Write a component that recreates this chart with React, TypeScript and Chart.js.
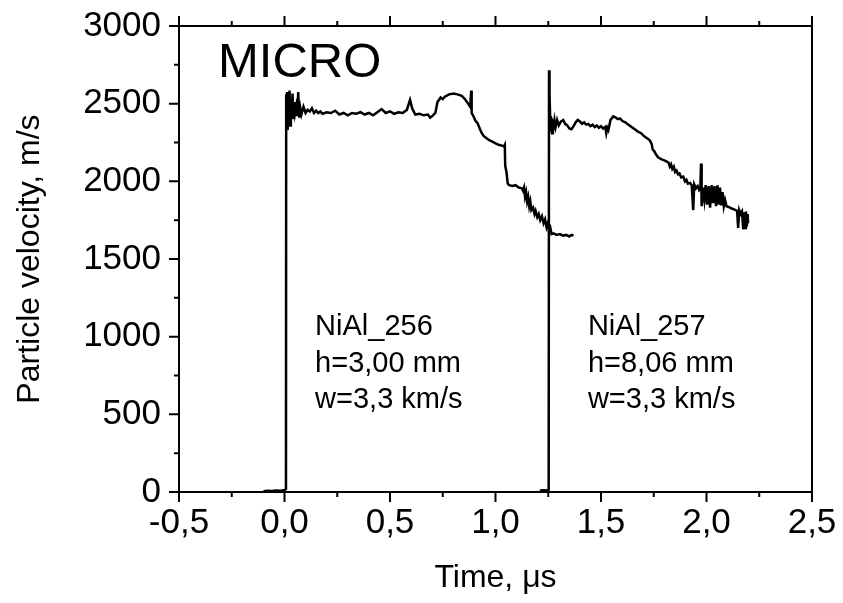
import React, { useEffect, useRef } from "react";
import { Chart, registerables } from "chart.js";

Chart.register(...registerables);

// ---- Data ----
const t256 = [
  -0.1, -0.08, -0.06, -0.04, -0.02, -0.005, 0.0, 0.007, 0.008, 0.01, 0.012, 0.015, 0.018, 0.021, 0.024, 0.027,
  0.03, 0.034, 0.038, 0.042, 0.046, 0.05, 0.055, 0.06, 0.065, 0.07, 0.075, 0.08, 0.09, 0.1, 0.11, 0.12,
  0.13, 0.14, 0.15, 0.16, 0.17, 0.18, 0.2, 0.22, 0.24, 0.26, 0.28, 0.3, 0.32, 0.34, 0.36, 0.38,
  0.4, 0.42, 0.44, 0.46, 0.48, 0.5, 0.52, 0.54, 0.56, 0.58, 0.595, 0.605, 0.62, 0.64, 0.66, 0.68,
  0.69, 0.7, 0.715, 0.725, 0.74, 0.75, 0.76, 0.78, 0.8, 0.82, 0.84, 0.855, 0.87, 0.88, 0.885, 0.887,
  0.895, 0.905, 0.915, 0.925, 0.935, 0.945, 0.955, 0.97, 0.985, 1.0, 1.015, 1.03, 1.04, 1.044, 1.046, 1.052,
  1.058, 1.065, 1.08, 1.095, 1.11, 1.125, 1.13, 1.135, 1.14, 1.145, 1.15, 1.155, 1.16, 1.165, 1.17, 1.178,
  1.185, 1.19, 1.198, 1.205, 1.212, 1.22, 1.228, 1.235, 1.242, 1.248, 1.254, 1.26, 1.266, 1.275, 1.29, 1.305,
  1.32, 1.335, 1.35, 1.36, 1.37,
];
const v256 = [
  5, 8, 6, 10, 8, 12, 12, 20, 2560, 2380, 2575, 2330, 2540, 2420, 2585, 2360,
  2500, 2440, 2565, 2400, 2510, 2440, 2480, 2420, 2575, 2410, 2470, 2430, 2480, 2440, 2460, 2450,
  2470, 2440, 2455, 2440, 2450, 2435, 2445, 2440, 2455, 2430, 2440, 2425, 2440, 2435, 2445, 2430,
  2440, 2425, 2445, 2465, 2440, 2450, 2435, 2445, 2440, 2460, 2525, 2470, 2430, 2435, 2425, 2430,
  2410, 2420, 2440, 2510, 2540, 2530, 2545, 2560, 2565, 2560, 2550, 2530, 2500, 2480, 2585, 2440,
  2420, 2390, 2375, 2340, 2310, 2290, 2280, 2265, 2255, 2245, 2235, 2230, 2225, 2235, 2100, 2060,
  1985, 1975, 1970, 1975, 1960, 1955, 1940, 1960, 1900, 1930, 1870, 1900, 1840, 1870, 1815, 1830,
  1790, 1810, 1770, 1790, 1750, 1775, 1730, 1755, 1705, 1730, 1680, 1700, 1660, 1665, 1655, 1660,
  1650, 1655, 1645, 1655, 1650,
];

const t257 = [
  1.21, 1.23, 1.245, 1.252, 1.2536, 1.256, 1.259, 1.262, 1.265, 1.268, 1.272, 1.276, 1.28, 1.285, 1.292, 1.3,
  1.31, 1.321, 1.33, 1.34, 1.35, 1.36, 1.37, 1.38, 1.39, 1.4, 1.41, 1.42, 1.43, 1.44, 1.45, 1.46,
  1.47, 1.48, 1.49, 1.5, 1.51, 1.52, 1.525, 1.53, 1.535, 1.545, 1.558, 1.57, 1.58, 1.59, 1.6, 1.615,
  1.63, 1.645, 1.66, 1.675, 1.69, 1.705, 1.718, 1.732, 1.74, 1.745, 1.752, 1.76, 1.77, 1.78, 1.79, 1.8,
  1.81, 1.82, 1.826, 1.832, 1.838, 1.845, 1.851, 1.858, 1.865, 1.872, 1.88, 1.89, 1.898, 1.905, 1.912, 1.922,
  1.93, 1.937, 1.942, 1.95, 1.958, 1.965, 1.971, 1.974, 1.977, 1.983, 1.99, 1.996, 2.003, 2.01, 2.017, 2.024,
  2.031, 2.038, 2.045, 2.052, 2.058, 2.064, 2.07, 2.076, 2.082, 2.088, 2.095, 2.105, 2.112, 2.12, 2.13, 2.138,
  2.145, 2.15, 2.155, 2.162, 2.168, 2.174, 2.178, 2.183, 2.187, 2.191, 2.195, 2.197,
];
const v257 = [
  10, 12, 10, 15, 2715, 2560, 2420, 2320, 2410, 2310, 2400, 2330, 2390, 2350, 2395, 2360,
  2385, 2395, 2370, 2360, 2340, 2335, 2355, 2380, 2395, 2385, 2370, 2380, 2365, 2370, 2355, 2365,
  2350, 2360, 2345, 2355, 2340, 2350, 2310, 2345, 2330, 2395, 2418, 2410, 2400, 2405, 2390, 2380,
  2365, 2350, 2335, 2320, 2310, 2290, 2278, 2262, 2240, 2205, 2195, 2175, 2155, 2147, 2140, 2135,
  2128, 2120, 2095, 2110, 2080, 2095, 2060, 2070, 2045, 2050, 2025, 2030, 2000, 2010, 1985, 1990,
  1975, 1815, 1980, 1955, 1970, 1945, 1960, 2115, 1840, 1960, 1880, 1975, 1850, 1970, 1830, 1975,
  1860, 1970, 1840, 1975, 1850, 1960, 1845, 1930, 1840, 1880, 1840, 1835, 1830, 1825, 1820, 1815,
  1810, 1700, 1815, 1790, 1805, 1690, 1800, 1700, 1805, 1710, 1790, 1730,
];

const xMajorTicks = [-0.5, 0, 0.5, 1, 1.5, 2, 2.5];
const xMinorTicks = [-0.25, 0.25, 0.75, 1.25, 1.75, 2.25];
const yMajorTicks = [0, 500, 1000, 1500, 2000, 2500, 3000];
const yMinorTicks = [250, 750, 1250, 1750, 2250, 2750];

const xTitle = "Time, \u03bcs";
const yTitle = "Particle velocity, m/s";
const panelLabel = "MICRO";
const note256 = ["NiAl_256", "h=3,00 mm", "w=3,3 km/s"];
const note257 = ["NiAl_257", "h=8,06 mm", "w=3,3 km/s"];

// anchors of the text blocks, in data coordinates (time, velocity)
const note256Anchor = [0.145, 1011];
const note257Anchor = [1.438, 1011];
const panelAnchor = [-0.315, 2672];

const FONT = "'Liberation Sans', Arial, Helvetica, sans-serif";

const framePlugin = {
  id: "frameAndTicks",
  afterDraw(chart: any) {
    const { ctx, chartArea } = chart;
    const xs = chart.scales.x;
    const ys = chart.scales.y;
    const { left, right, top, bottom } = chartArea;
    ctx.save();
    ctx.strokeStyle = "#000";
    ctx.lineWidth = 2;
    ctx.lineCap = "butt";
    ctx.beginPath();
    ctx.moveTo(left, top);
    ctx.lineTo(right, top);
    ctx.moveTo(left, bottom);
    ctx.lineTo(right, bottom);
    ctx.moveTo(left, top - 1);
    ctx.lineTo(left, bottom + 1);
    ctx.moveTo(right, top - 1);
    ctx.lineTo(right, bottom + 1);
    const drawX = (vals: number[], len: number) => {
      vals.forEach((v) => {
        const px = xs.getPixelForValue(v);
        ctx.moveTo(px, bottom);
        ctx.lineTo(px, bottom + len);
        ctx.moveTo(px, top);
        ctx.lineTo(px, top - len);
      });
    };
    drawX(xMajorTicks, 10);
    drawX(xMinorTicks, 5);
    const drawY = (vals: number[], len: number) => {
      vals.forEach((v) => {
        const py = ys.getPixelForValue(v);
        ctx.moveTo(left, py);
        ctx.lineTo(left - len, py);
      });
    };
    drawY(yMajorTicks, 10);
    drawY(yMinorTicks, 5);
    ctx.stroke();

    ctx.fillStyle = "#000";
    ctx.textAlign = "left";
    ctx.textBaseline = "alphabetic";
    ctx.font = `49px ${FONT}`;
    ctx.fillText(panelLabel, xs.getPixelForValue(panelAnchor[0]), ys.getPixelForValue(panelAnchor[1]));
    ctx.font = `29px ${FONT}`;
    const block = (lines: string[], anchor: number[]) => {
      const x0 = xs.getPixelForValue(anchor[0]);
      const y0 = ys.getPixelForValue(anchor[1]);
      lines.forEach((s, i) => ctx.fillText(s, x0, y0 + i * 36.7));
    };
    block(note256, note256Anchor);
    block(note257, note257Anchor);
    ctx.restore();
  },
};

export default function App() {
  const canvasRef = useRef<HTMLCanvasElement | null>(null);

  useEffect(() => {
    if (!canvasRef.current) return;
    const mk = (ts: number[], vs: number[]) => ts.map((t, i) => ({ x: t, y: vs[i] }));
    const chart = new Chart(canvasRef.current, {
      type: "line",
      data: {
        datasets: [
          {
            label: "NiAl_256",
            data: mk(t256, v256),
            borderColor: "#000",
            borderWidth: 2.5,
            pointRadius: 0,
            tension: 0,
            fill: false,
          },
          {
            label: "NiAl_257",
            data: mk(t257, v257),
            borderColor: "#000",
            borderWidth: 2.5,
            pointRadius: 0,
            tension: 0,
            fill: false,
          },
        ],
      },
      options: {
        animation: false,
        responsive: false,
        maintainAspectRatio: false,
        layout: { padding: { top: 26, right: 31, left: 0, bottom: 0 } },
        plugins: {
          legend: { display: false },
          tooltip: { enabled: false },
          title: { display: false },
        },
        scales: {
          x: {
            type: "linear",
            position: "bottom",
            min: -0.5,
            max: 2.5,
            grid: { display: false, drawTicks: false },
            border: { display: false },
            ticks: {
              stepSize: 0.5,
              autoSkip: false,
              maxRotation: 0,
              padding: 10,
              color: "#000",
              font: { size: 35, family: FONT },
              callback: (v: any) => Number(v).toFixed(1).replace(".", ","),
            },
            title: {
              display: true,
              text: xTitle,
              color: "#000",
              font: { size: 32, family: FONT },
              padding: { top: 0, bottom: 6 },
            },
            afterFit: (s: any) => {
              s.height = 111;
              s.paddingLeft = 0;
              s.paddingRight = 0;
            },
          },
          y: {
            type: "linear",
            position: "left",
            min: 0,
            max: 3000,
            grid: { display: false, drawTicks: false },
            border: { display: false },
            ticks: {
              stepSize: 500,
              autoSkip: false,
              padding: 18,
              color: "#000",
              font: { size: 35, family: FONT },
              callback: (v: any) => String(v),
            },
            title: {
              display: true,
              text: yTitle,
              color: "#000",
              font: { size: 32, family: FONT },
              padding: { top: 11, bottom: 0 },
            },
            afterFit: (s: any) => {
              s.width = 179;
              s.paddingTop = 0;
              s.paddingBottom = 0;
            },
          },
        },
      },
      plugins: [framePlugin],
    });
    return () => chart.destroy();
  }, []);

  return (
    <div style={{ position: "absolute", left: 0, top: 0, width: 843, height: 603, background: "#fff" }}>
      <canvas ref={canvasRef} width={843} height={603} style={{ display: "block" }} />
    </div>
  );
}
